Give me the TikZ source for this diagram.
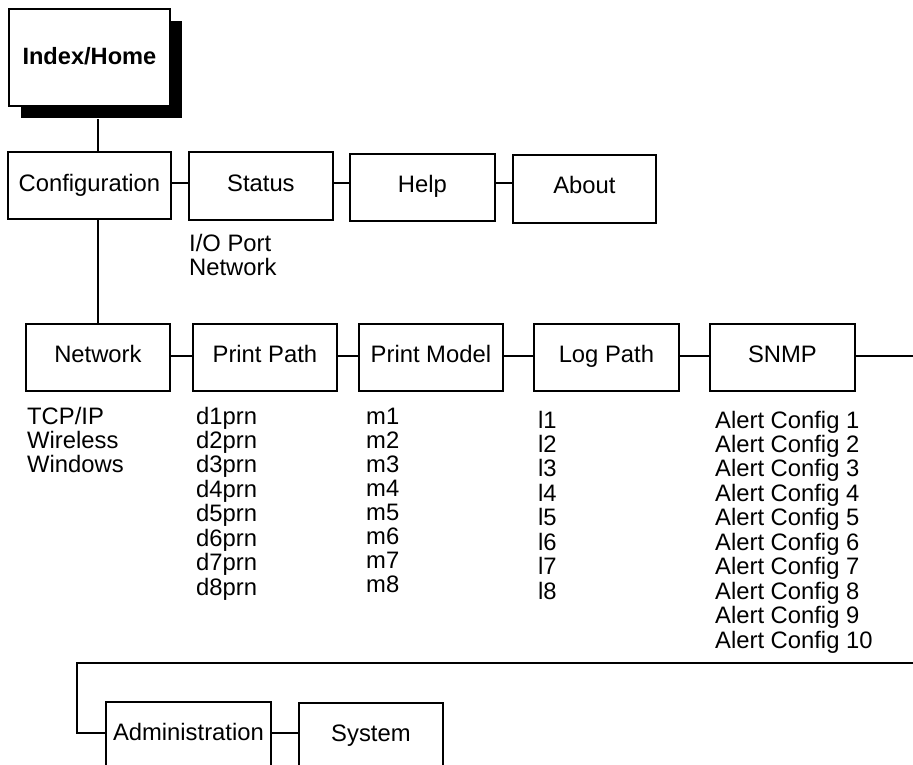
\documentclass[tikz,border=0pt]{standalone}
\usepackage{fontspec}
\setmainfont{Liberation Sans}
\usetikzlibrary{shadows}
\newcommand{\itemcol}[1]{\begin{tabular}[t]{@{}l@{}}#1\end{tabular}}
\begin{document}
\begin{tikzpicture}[x=1pt,y=-1pt,
  lw/.style={line width=1.8pt},
  menubox/.style={draw, lw, fill=white, inner sep=0pt, anchor=north west,
    font=\fontsize{23.8}{24}\selectfont, text height=39pt, text depth=28pt},
  homebox/.style={menubox, font=\fontsize{23.6}{24}\selectfont\bfseries,
    text height=56pt, text depth=41pt, minimum width=161pt,
    drop shadow={shadow xshift=12pt, shadow yshift=-12pt, fill=black, opacity=1}},
  itemlist/.style={inner sep=0pt, anchor=base west,
    font=\fontsize{23.8}{24}\selectfont},
  link/.style={lw}]
\path[use as bounding box, clip] (0,0) rectangle (913,765);
\fill[white] (0,0) rectangle (913,765);

% top
\node[homebox] (home) at (8,8) {Index/Home};
\coordinate (homeshadow) at ([yshift=-12pt]home.south);

% second row
\node[menubox, minimum width=163pt, text height=40pt, text depth=27pt] (conf) at (7,151) {Configuration};
\node[menubox, minimum width=144pt, text height=40pt] (stat) at (188,151) {Status};
\node[menubox, minimum width=145pt] (help) at (349,153) {Help};
\node[menubox, minimum width=143pt, text depth=29pt] (about) at (512,154) {About};

\node[itemlist] (statlist) at (189,251) {\itemcol{I/O Port\\Network}};

% third row
\node[menubox, minimum width=144pt] (net) at (25,323) {Network};
\node[menubox, minimum width=144pt] (pp) at (192,323) {Print Path};
\node[menubox, minimum width=144pt] (pm) at (358,323) {Print Model};
\node[menubox, minimum width=145pt] (lp) at (533,323) {Log Path};
\node[menubox, minimum width=145pt] (snmp) at (709,323) {SNMP};

\node[itemlist] (netlist) at (27,424) {\itemcol{TCP/IP\\Wireless\\Windows}};
\node[itemlist] (pplist) at (196,424) {\itemcol{d1prn\\d2prn\\d3prn\\d4prn\\d5prn\\d6prn\\d7prn\\d8prn}};
\node[itemlist] (pmlist) at (366,424) {\itemcol{m1\\m2\\m3\\m4\\m5\\m6\\m7\\m8}};
\node[itemlist] (lplist) at (538,428) {\itemcol{l1\\l2\\l3\\l4\\l5\\l6\\l7\\l8}};
\node[itemlist] (snmplist) at (715,428) {\itemcol{Alert Config 1\\Alert Config 2\\Alert Config 3\\Alert Config 4\\Alert Config 5\\Alert Config 6\\Alert Config 7\\Alert Config 8\\Alert Config 9\\Alert Config 10}};

% fourth row
\node[menubox, minimum width=165pt, text depth=45pt] (adm) at (105,701) {Administration};
\node[menubox, minimum width=144pt, text depth=45pt] (sys) at (298,702) {System};

% connectors
\draw[link] (net.north |- homeshadow) -- (net.north |- conf.north);
\draw[link] (net.north |- conf.south) -- (net.north);

\draw[link] ([yshift=-32pt]conf.north east) -- ([yshift=-32pt]conf.north east -| stat.west);
\draw[link] ([yshift=-32pt]stat.north east) -- ([yshift=-32pt]stat.north east -| help.west);
\draw[link] ([yshift=-30pt]help.north east) -- ([yshift=-30pt]help.north east -| about.west);

\draw[link] ([yshift=-33pt]net.north east) -- ([yshift=-33pt]net.north east -| pp.west);
\draw[link] ([yshift=-33pt]pp.north east) -- ([yshift=-33pt]pp.north east -| pm.west);
\draw[link] ([yshift=-33pt]pm.north east) -- ([yshift=-33pt]pm.north east -| lp.west);
\draw[link] ([yshift=-33pt]lp.north east) -- ([yshift=-33pt]lp.north east -| snmp.west);
\coordinate (snmpout) at (915,356);
\draw[link] ([yshift=-33pt]snmp.north east) -- (snmpout);

\coordinate (wrapin) at (915,663);
\coordinate (wrapcorner) at (77,663);
\draw[link] (wrapin) -- (wrapcorner) |- ([yshift=-32pt]adm.north west);
\draw[link] ([yshift=-32pt]adm.north east) -- ([yshift=-32pt]adm.north east -| sys.west);
\end{tikzpicture}
\end{document}
